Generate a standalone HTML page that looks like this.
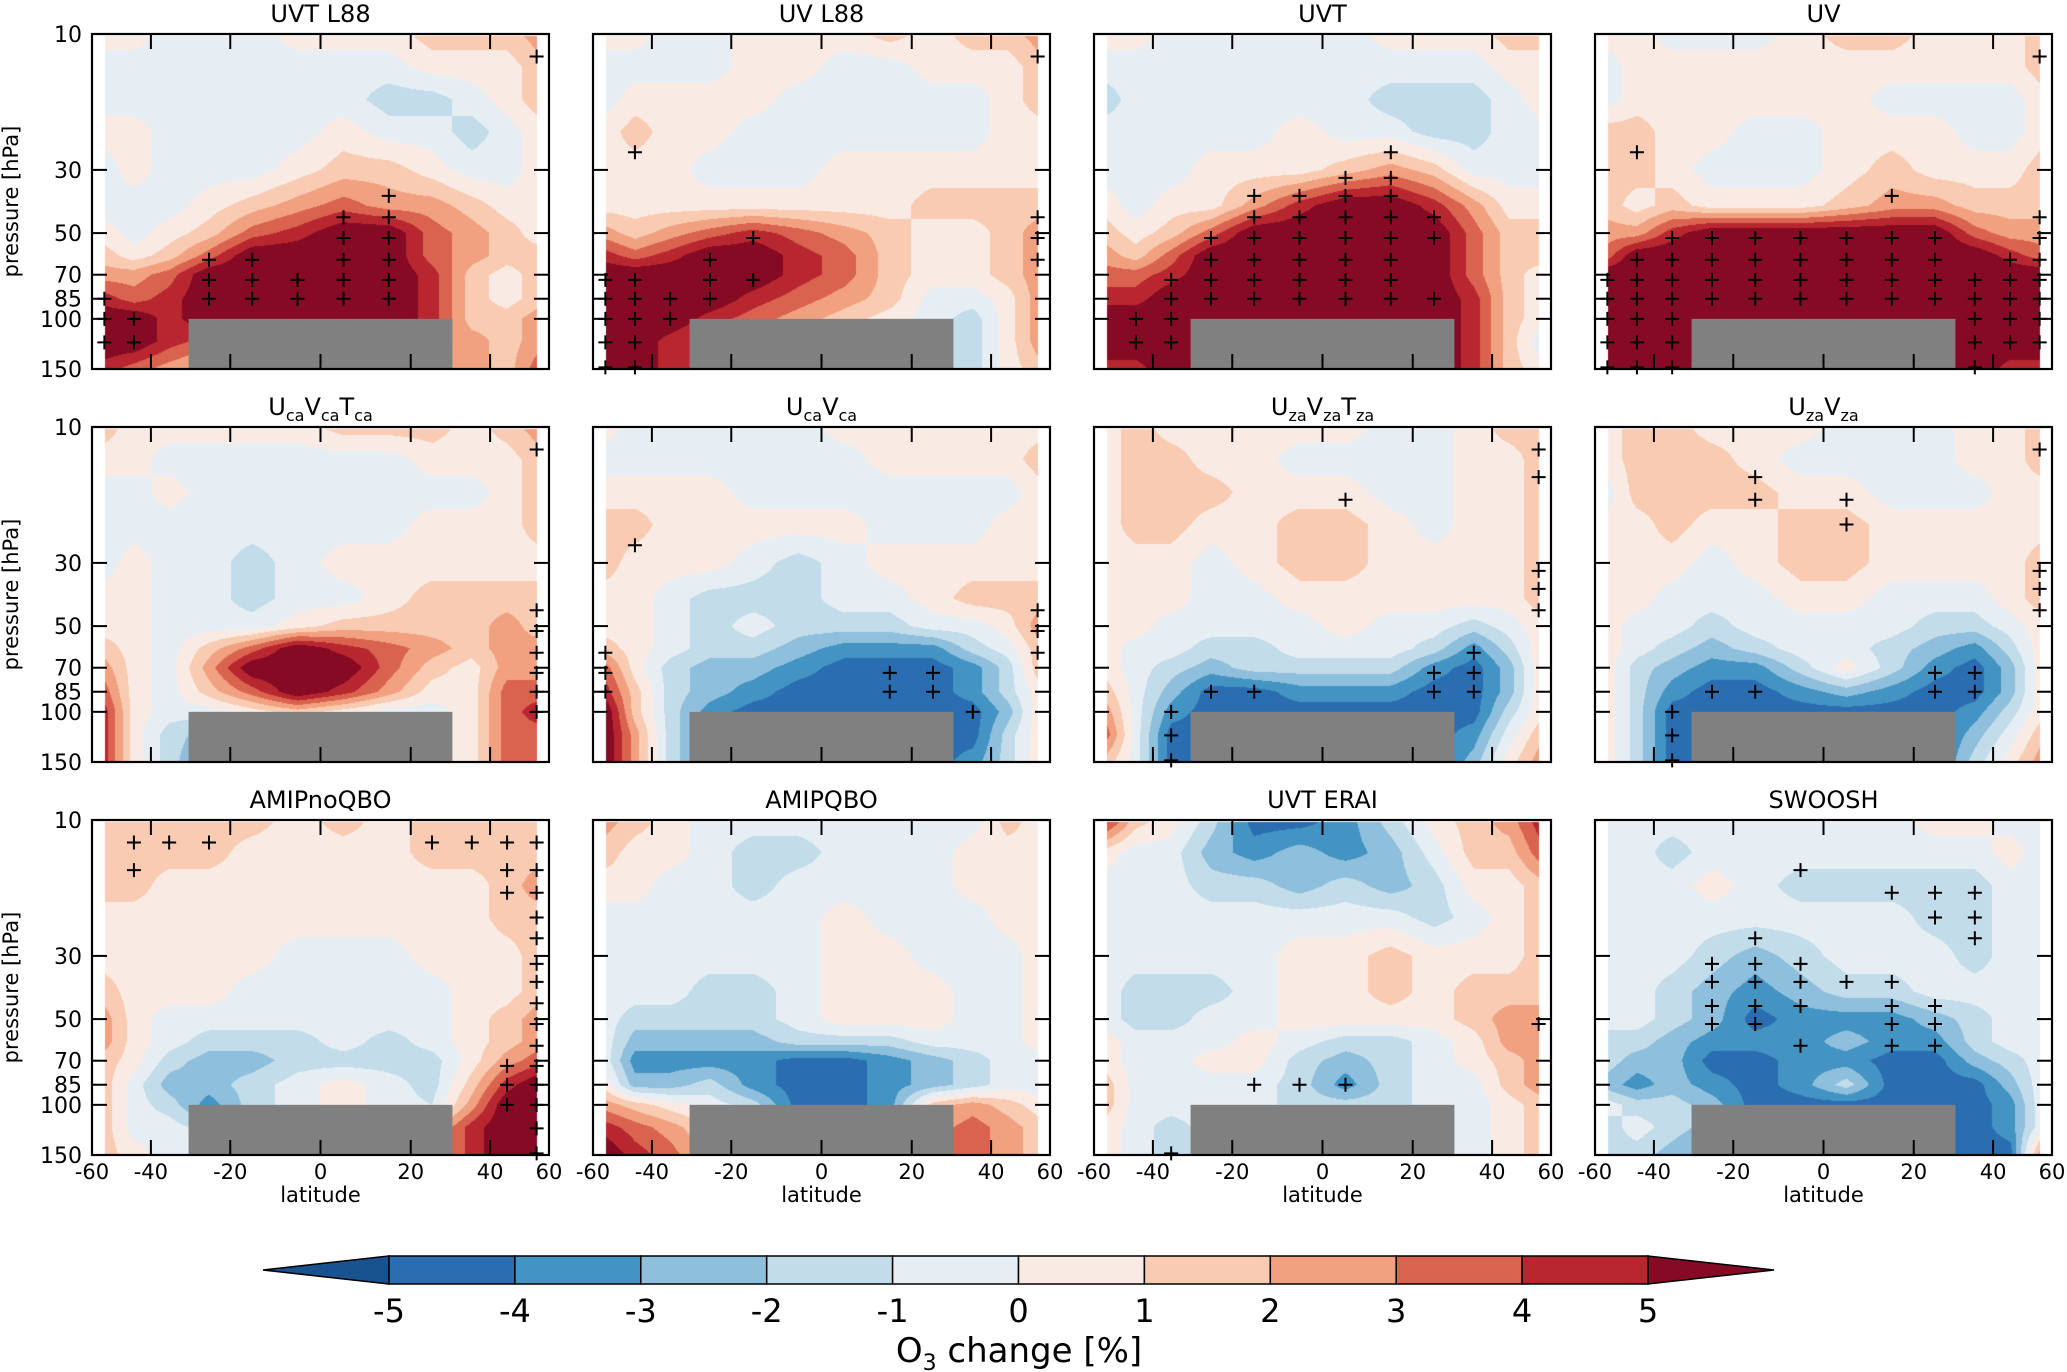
<!DOCTYPE html>
<html><head><meta charset="utf-8">
<style>
body{margin:0;background:#fff;}
#root{position:relative;width:2067px;height:1372px;overflow:hidden;font-family:"DejaVu Sans","Liberation Sans",sans-serif;}
canvas{position:absolute;}
svg{position:absolute;left:0;top:0;}
</style></head>
<body>
<div id="root">
<svg id="svg" width="2067" height="1372"></svg>
</div>
<script>
// ---- data ----
const lats = [-55,-45,-35,-25,-15,-5,5,15,25,35,45,55];
const levels = [10,13,17,22,30,40,50,60,70,85,100,120,150];
const titles = ["UVT L88","UV L88","UVT","UV","U_caV_caT_ca","U_caV_ca","U_zaV_zaT_za","U_zaV_za","AMIPnoQBO","AMIPQBO","UVT ERAI","SWOOSH"];
const yTicks = [10,30,50,70,85,100,150];
const xTicks = [-60,-40,-20,0,20,40,60];
const cbarLevels = [-5,-4,-3,-2,-1,0,1,2,3,4,5];
const colors = ["#18528f","#2a6db1","#4393c3","#8ebfdc","#c2dcea","#e6eef4","#f9ebe3","#f9cbb3","#f1a17f","#d9634f","#b8272f","#860a23"];

const p1 = [
[0.5,0.5,-0.5,-0.5,-0.5,0.5,0.5,0.5,1.5,1.5,1.5,2.5],
[-0.5,-0.5,-0.5,-0.5,-0.5,-0.5,-0.5,-0.5,0.5,0.5,0.5,1.5],
[-0.5,-0.5,-0.5,-0.5,-0.5,-0.5,-0.5,-1.5,-1.5,-0.5,0.5,1.5],
[0.5,0.5,-0.5,-0.5,-0.5,-0.5,0.5,-0.5,-0.5,-1.5,-0.5,0.5],
[-0.5,0.5,-0.5,-0.5,-0.5,0.5,1.5,1.5,0.5,-0.5,-0.5,0.5],
[-0.5,-0.5,-0.5,0.5,1.5,2.5,3.5,2.5,2.5,1.5,0.5,0.5],
[0.5,-0.5,0.5,1.5,3.5,4.5,6,6,3.5,2.5,1.5,0.5],
[1.5,0.5,1.5,3.5,6,6,6,6,3.5,2.5,1.5,1.5],
[2.5,2.5,3.5,6,6,6,6,6,4.5,1.5,0.5,1.5],
[4.5,3.5,4.5,6,6,6,6,6,4.5,1.5,0.5,1.5],
[6,6,4.5,6,6,6,6,6,4.5,1.5,1.5,2.5],
[6,6,4.5,3.5,3.5,4,4,4,3.5,2.5,1.5,2.5],
[4.5,3.5,2.5,1.5,2,2,2,2,2.5,2.5,1.5,3.5]];
const p2 = [
[0.5,0.5,-0.5,-0.5,0.5,0.5,0.5,1.5,0.5,1.5,1.5,2.5],
[-0.5,-0.5,-0.5,-0.5,0.5,0.5,-0.5,-0.5,0.5,0.5,0.5,1.5],
[-0.5,0.5,0.5,0.5,0.5,-0.5,-0.5,-0.5,-0.5,-0.5,0.5,1.5],
[0.5,1.5,0.5,0.5,-0.5,-0.5,-0.5,-0.5,-0.5,-0.5,0.5,0.5],
[0.5,0.5,0.5,-0.5,-0.5,-0.5,0.5,0.5,0.5,0.5,0.5,0.5],
[0.5,0.5,0.5,0.5,0.5,0.5,0.5,0.5,1.5,1.5,1.5,1.5],
[2.5,1.5,2.5,3.5,4.5,3.5,2.5,1.5,0.5,0.5,1.5,2.5],
[4.5,3.5,4.5,6,6,4.5,3.5,1.5,0.5,0.5,1.5,2.5],
[6,6,6,6,6,4.5,3.5,1.5,0.5,0.5,1.5,2.5],
[6,6,6,6,4.5,3.5,2.5,1.5,-0.5,-0.5,0.5,2.5],
[6,6,6,4.5,3.5,2.5,1.5,0.5,-0.5,-1.5,0.5,2.5],
[6,6,4.5,3.5,2.5,1.5,0.5,0.5,-0.5,-1.5,0.5,2.5],
[6,6,4.5,3.5,2,2,1,0.5,-0.5,-1.5,0.5,1.5]];
const p3 = [
[0.5,0.5,-0.5,-0.5,-0.5,-0.5,-0.5,0.5,0.5,0.5,1.5,1.5],
[-0.5,-0.5,-0.5,-0.5,-0.5,-0.5,-0.5,-0.5,-0.5,-0.5,0.5,0.5],
[-1.5,-0.5,-0.5,-0.5,-0.5,-0.5,-0.5,-1.5,-1.5,-1.5,-0.5,0.5],
[-0.5,-0.5,-0.5,-0.5,-0.5,0.5,-0.5,-0.5,-1.5,-1.5,-0.5,-0.5],
[-0.5,-0.5,-0.5,0.5,0.5,0.5,1.5,2.5,1.5,-0.5,-0.5,-0.5],
[0.5,-0.5,0.5,0.5,2.5,4.5,6,6,4.5,2.5,0.5,0.5],
[1.5,0.5,1.5,3.5,6,6,6,6,6,3.5,1.5,1.5],
[2.5,1.5,3.5,6,6,6,6,6,6,3.5,1.5,1.5],
[3.5,3.5,4.5,6,6,6,6,6,6,3.5,1.5,0.5],
[4.5,4.5,6,6,6,6,6,6,6,4.5,1.5,0.5],
[6,6,6,6,6,6,6,6,6,4.5,1.5,0.5],
[6,6,6,6,6,6,6,6,6,4.5,1.5,-0.5],
[4.5,4.5,6,6,6,6,6,6,6,4.5,1.5,0.5]];
const p4 = [
[0.5,0.5,-0.5,-0.5,-0.5,0.5,1.5,1.5,0.5,0.5,0.5,1.5],
[-0.5,0.5,0.5,0.5,0.5,0.5,0.5,0.5,0.5,0.5,0.5,1.5],
[-0.5,0.5,0.5,0.5,0.5,0.5,0.5,-0.5,-0.5,-0.5,-0.5,0.5],
[1.5,1.5,0.5,0.5,-0.5,-0.5,0.5,0.5,0.5,-0.5,-0.5,0.5],
[1.5,1.5,0.5,-0.5,-0.5,-0.5,0.5,1.5,0.5,0.5,0.5,1.5],
[1.5,0.5,1.5,0.5,0.5,0.5,1.5,2.5,2.5,1.5,1.5,1.5],
[2.5,2.5,4.5,6,6,6,6,6,6,3.5,2.5,2.5],
[3.5,6,6,6,6,6,6,6,6,6,4.5,3.5],
[6,6,6,6,6,6,6,6,6,6,6,6],
[6,6,6,6,6,6,6,6,6,6,6,6],
[6,6,6,6,6,6,6,6,6,6,6,6],
[6,6,6,6,6,6,6,6,6,6,6,6],
[6,6,6,6,6,6,6,6,6,6,4.5,4.5]];
const p5 = [
[1.5,0.5,0.5,0.5,0.5,0.5,1.5,1.5,1.5,0.5,1.5,2.5],
[0.5,0.5,-0.5,-0.5,-0.5,-0.5,-0.5,-0.5,0.5,0.5,0.5,1.5],
[-0.5,-0.5,0.5,-0.5,-0.5,-0.5,-0.5,-0.5,-0.5,-0.5,0.5,1.5],
[-0.5,-0.5,-0.5,-0.5,-0.5,-0.5,-0.5,-0.5,0.5,0.5,0.5,1.5],
[-0.5,0.5,-0.5,-0.5,-1.5,-0.5,0.5,0.5,0.5,0.5,0.5,0.5],
[0.5,0.5,-0.5,-0.5,-1.5,-0.5,-0.5,0.5,1.5,1.5,1.5,1.5],
[0.5,0.5,-0.5,-0.5,-0.5,0.5,1.5,1.5,1.5,1.5,2.5,1.5],
[1.5,0.5,-0.5,1.5,3.5,6,4.5,3.5,2.5,1.5,2.5,2.5],
[2.5,0.5,-0.5,2.5,6,6,6,3.5,1.5,0.5,2.5,2.5],
[3.5,0.5,-0.5,1.5,3.5,6,4.5,2.5,0.5,0.5,3.5,3.5],
[4.5,0.5,-0.5,-0.5,0.5,1.5,0.5,-0.5,-0.5,0.5,3.5,4.5],
[4.5,0.5,-1.5,-2.5,-1,-1,-1,-1,-0.5,0.5,3.5,3.5],
[4.5,0.5,-1.5,-3.5,-1,-1,-1,-1,-0.5,0.5,3.5,3.5]];
const p6 = [
[0.5,-0.5,-0.5,-0.5,-0.5,-0.5,0.5,0.5,0.5,0.5,0.5,0.5],
[-0.5,-0.5,-0.5,-0.5,-0.5,-0.5,-0.5,0.5,0.5,0.5,0.5,1.5],
[0.5,0.5,0.5,0.5,-0.5,-0.5,-0.5,-0.5,-0.5,-0.5,-0.5,0.5],
[1.5,1.5,0.5,0.5,0.5,0.5,0.5,-0.5,-0.5,-0.5,0.5,0.5],
[1.5,0.5,0.5,0.5,-0.5,-1.5,-0.5,0.5,0.5,0.5,0.5,0.5],
[0.5,0.5,-0.5,-1.5,-1.5,-1.5,-0.5,-0.5,0.5,1.5,1.5,1.5],
[0.5,0.5,-0.5,-1.5,-0.5,-1.5,-1.5,-1.5,-0.5,-0.5,0.5,2.5],
[1.5,0.5,-0.5,-1.5,-1.5,-2.5,-3.5,-3.5,-3.5,-1.5,-0.5,1.5],
[3.5,0.5,-1.5,-2.5,-2.5,-3.5,-4.5,-4.5,-4.5,-3.5,-1.5,1.5],
[4.5,1.5,-1.5,-2.5,-3.5,-4.5,-4.5,-4.5,-4.5,-3.5,-1.5,0.5],
[6,1.5,-1.5,-3.5,-4.5,-4.5,-4.5,-4.5,-4.5,-4.5,-2.5,0.5],
[6,2.5,-1.5,-3.5,-4,-4,-4,-4,-4.5,-4.5,-1.5,0.5],
[6,2.5,-1.5,-3.5,-4,-4,-4,-4,-4.5,-3.5,-1.5,0.5]];
const p7 = [
[0.5,1.5,0.5,0.5,0.5,0.5,0.5,-0.5,-0.5,0.5,1.5,1.5],
[0.5,1.5,1.5,0.5,0.5,-0.5,-0.5,-0.5,-0.5,0.5,0.5,1.5],
[0.5,1.5,1.5,1.5,0.5,0.5,0.5,-0.5,-0.5,0.5,0.5,1.5],
[0.5,1.5,1.5,0.5,0.5,1.5,1.5,0.5,-0.5,0.5,0.5,1.5],
[0.5,0.5,0.5,-0.5,0.5,1.5,1.5,0.5,0.5,0.5,0.5,1.5],
[0.5,0.5,0.5,-0.5,-0.5,0.5,0.5,0.5,0.5,0.5,0.5,1.5],
[0.5,0.5,-0.5,-0.5,-0.5,-0.5,0.5,-0.5,-0.5,-1.5,-0.5,0.5],
[0.5,-0.5,-0.5,-1.5,-1.5,-0.5,-0.5,-0.5,-1.5,-3.5,-1.5,0.5],
[0.5,-0.5,-1.5,-2.5,-1.5,-1.5,-1.5,-1.5,-3.5,-4.5,-2.5,0.5],
[1.5,-0.5,-2.5,-4.5,-4.5,-3.5,-3.5,-3.5,-4.5,-4.5,-2.5,0.5],
[2.5,-0.5,-3.5,-4.5,-4.5,-4.5,-4.5,-4.5,-4.5,-4.5,-1.5,0.5],
[3.5,-0.5,-4.5,-4.5,-4.5,-4.5,-4.5,-4.5,-4.5,-3.5,-0.5,1.5],
[1.5,-0.5,-4.5,-4.5,-4.5,-4.5,-4.5,-4.5,-4.5,-2.5,0.5,2.5]];
const p8 = [
[0.5,1.5,1.5,0.5,0.5,0.5,-0.5,-0.5,-0.5,0.5,0.5,1.5],
[0.5,1.5,1.5,1.5,0.5,-0.5,-0.5,-0.5,-0.5,0.5,0.5,1.5],
[-0.5,1.5,1.5,1.5,1.5,0.5,0.5,-0.5,-0.5,-0.5,0.5,0.5],
[0.5,0.5,1.5,0.5,0.5,1.5,1.5,0.5,0.5,0.5,0.5,0.5],
[0.5,0.5,0.5,-0.5,0.5,1.5,1.5,0.5,0.5,0.5,0.5,1.5],
[0.5,0.5,-0.5,-0.5,-0.5,0.5,0.5,-0.5,-0.5,-0.5,0.5,1.5],
[0.5,-0.5,-0.5,-1.5,-0.5,-0.5,-0.5,-0.5,-1.5,-1.5,-0.5,0.5],
[0.5,-0.5,-1.5,-2.5,-1.5,-0.5,-0.5,-1.5,-2.5,-3.5,-1.5,0.5],
[0.5,-1.5,-2.5,-3.5,-3.5,-1.5,0.5,-1.5,-3.5,-4.5,-2.5,0.5],
[0.5,-1.5,-3.5,-4.5,-4.5,-3.5,-2.5,-3.5,-4.5,-4.5,-2.5,0.5],
[0.5,-1.5,-4.5,-4.5,-4.5,-4.5,-4.5,-4.5,-4.5,-3.5,-1.5,0.5],
[0.5,-1.5,-4.5,-4.5,-4.5,-4.5,-4.5,-4.5,-4.5,-2.5,-0.5,1.5],
[0.5,-1.5,-4.5,-4.5,-4.5,-4.5,-4.5,-4.5,-4.5,-1.5,0.5,2.5]];
const p9 = [
[1.5,1.5,1.5,1.5,1.5,0.5,1.5,0.5,1.5,1.5,1.5,1.5],
[1.5,1.5,1.5,1.5,0.5,0.5,0.5,0.5,1.5,1.5,1.5,1.5],
[1.5,1.5,0.5,0.5,0.5,0.5,0.5,0.5,0.5,0.5,1.5,2.5],
[0.5,0.5,0.5,0.5,0.5,0.5,0.5,0.5,0.5,0.5,1.5,1.5],
[0.5,0.5,0.5,0.5,0.5,-0.5,-0.5,-0.5,0.5,0.5,0.5,1.5],
[1.5,0.5,0.5,0.5,-0.5,-0.5,-0.5,-0.5,-0.5,0.5,0.5,1.5],
[2.5,0.5,-0.5,-0.5,-0.5,-0.5,-0.5,-0.5,-0.5,0.5,1.5,2.5],
[2.5,0.5,-0.5,-1.5,-1.5,-1.5,-0.5,-1.5,-0.5,0.5,1.5,2.5],
[1.5,0.5,-1.5,-2.5,-2.5,-1.5,-1.5,-1.5,-1.5,0.5,2.5,3.5],
[1.5,-0.5,-2.5,-2.5,-1.5,-0.5,0.5,-0.5,-1.5,1.5,4.5,6],
[1.5,-0.5,-1.5,-3.5,-1.5,-0.5,0.5,-0.5,-1,2.5,6,6],
[1.5,-0.5,-0.5,-1.5,-1,-1,-1,-1,1.5,4.5,6,6],
[1.5,0.5,-0.5,-0.5,-1,-1,-1,-1,1.5,4.5,6,6]];
const p10 = [
[2.5,1.5,0.5,-0.5,-0.5,-0.5,-0.5,-0.5,-0.5,-0.5,1.5,0.5],
[1.5,0.5,0.5,-0.5,-1.5,-1.5,-0.5,-0.5,-0.5,0.5,0.5,0.5],
[0.5,0.5,-0.5,-0.5,-1.5,-0.5,-0.5,-0.5,-0.5,0.5,0.5,0.5],
[-0.5,-0.5,-0.5,-0.5,-0.5,-0.5,0.5,-0.5,-0.5,-0.5,0.5,0.5],
[-0.5,-0.5,-0.5,-0.5,-0.5,-0.5,0.5,0.5,-0.5,-0.5,-0.5,0.5],
[-0.5,-0.5,-0.5,-1.5,-1.5,-0.5,0.5,0.5,0.5,-0.5,-0.5,0.5],
[-0.5,-1.5,-1.5,-1.5,-1.5,-0.5,0.5,0.5,0.5,-0.5,-0.5,0.5],
[-0.5,-2.5,-2.5,-2.5,-2.5,-1.5,-1.5,-1.5,-0.5,-0.5,-0.5,0.5],
[-0.5,-3.5,-3.5,-3.5,-3.5,-4.5,-4.5,-3.5,-2.5,-1.5,-0.5,-0.5],
[0.5,-2.5,-2.5,-1.5,-3.5,-4.5,-4.5,-3.5,-2.5,-1.5,-0.5,-0.5],
[2.5,1.5,0.5,-0.5,-1.5,-4.5,-4.5,-3.5,1.5,2.5,1.5,0.5],
[4.5,3.5,2.5,1,-2,-3,-3,-2,2.5,3.5,2.5,1.5],
[6,4.5,3.5,1.5,-1,-2,-2,-1,3.5,3.5,2.5,1.5]];
const p11 = [
[4.5,1.5,0.5,-1.5,-4.5,-4.5,-3.5,-1.5,0.5,1.5,2.5,4.5],
[0.5,-0.5,-0.5,-2.5,-3.5,-2.5,-3.5,-2.5,-0.5,1.5,1.5,3.5],
[-0.5,-0.5,-0.5,-1.5,-1.5,-2.5,-1.5,-2.5,-1.5,0.5,0.5,1.5],
[-0.5,-0.5,-0.5,-0.5,-0.5,-0.5,-0.5,-0.5,-1.5,-0.5,0.5,1.5],
[-0.5,-0.5,-0.5,-0.5,-0.5,0.5,0.5,1.5,0.5,0.5,0.5,1.5],
[-0.5,-1.5,-1.5,-1.5,-0.5,0.5,0.5,1.5,0.5,1.5,1.5,1.5],
[-0.5,-1.5,-1.5,-0.5,-0.5,0.5,0.5,0.5,0.5,1.5,2.5,2.5],
[0.5,-0.5,-0.5,-0.5,0.5,-0.5,-1.5,-1.5,-0.5,0.5,2.5,2.5],
[0.5,-0.5,-0.5,0.5,0.5,-1.5,-2.5,-1.5,-0.5,0.5,1.5,2.5],
[1.5,-0.5,-0.5,-0.5,-0.5,-1.5,-3.5,-1.5,-0.5,-0.5,1.5,2.5],
[1.5,-0.5,-0.5,-0.5,-0.5,-1.5,-1.5,-1.5,-0.5,-0.5,0.5,1.5],
[0.5,-0.5,-1.5,-0.5,-0.5,-0.5,-0.5,-0.5,-0.5,-0.5,0.5,1.5],
[0.5,-0.5,-1.5,-0.5,-0.5,-0.5,-0.5,-0.5,-0.5,-0.5,0.5,1.5]];
const p12 = [
[-0.5,-0.5,-0.5,-0.5,-0.5,-0.5,-0.5,-0.5,0.5,0.5,-0.5,-0.5],
[-0.5,-0.5,-1.5,-0.5,-0.5,-0.5,-0.5,-0.5,-0.5,-0.5,0.5,-0.5],
[-0.5,-0.5,-0.5,0.5,-0.5,-1.5,-1.5,-1.5,-1.5,-1.5,-0.5,-0.5],
[-0.5,-0.5,-0.5,-0.5,-0.5,-0.5,-0.5,-0.5,-1.5,-1.5,-0.5,-0.5],
[-0.5,-0.5,-0.5,-1.5,-2.5,-1.5,-0.5,-0.5,-0.5,-1.5,-0.5,-0.5],
[-0.5,-0.5,-1.5,-2.5,-3.5,-2.5,-1.5,-1.5,-0.5,-0.5,-0.5,-0.5],
[-0.5,-0.5,-1.5,-2.5,-4.5,-3.5,-3.5,-3.5,-2.5,-1.5,-0.5,-0.5],
[-1.5,-1.5,-2.5,-3.5,-3.5,-3.5,-2.5,-3.5,-3.5,-1.5,-0.5,-0.5],
[-1.5,-2.5,-2.5,-4.5,-4.5,-3.5,-3.5,-4.5,-4.5,-2.5,-1.5,-0.5],
[-2.5,-3.5,-2.5,-3.5,-4.5,-3.5,-1.5,-4.5,-4.5,-4.5,-2.5,-0.5],
[-0.5,-1.5,-1.5,-2.5,-4.5,-4.5,-4.5,-4.5,-4.5,-4.5,-3.5,-0.5],
[-1.5,-0.5,-1.5,-2.5,-4.5,-4.5,-4.5,-4.5,-4.5,-4.5,-3.5,-0.5],
[-1.5,-1.5,-2.5,-3.5,-4.5,-4.5,-4.5,-4.5,-4.5,-4.5,-4.5,2.5]];
const fields = [p1,p2,p3,p4,p5,p6,p7,p8,p9,p10,p11,p12];

// significance markers [lat, pressure]
const sig1 = [[55,12],[15,37],[5,44],[15,44],[5,52],[15,52],[-25,62],[-15,62],[5,62],[15,62],[-25,73],[-15,73],[-5,73],[5,73],[15,73],[-25,85],[-15,85],[-5,85],[5,85],[15,85],[-55,85],[-55,100],[-45,100],[-55,121],[-45,121]];
const sig2 = [[-45,26],[55,12],[55,44],[55,52],[55,62],[-15,52],[-25,62],[-25,73],[-15,73],[-55,73],[-45,73],[-55,85],[-45,85],[-35,85],[-25,85],[-55,100],[-45,100],[-35,100],[-55,121],[-45,121],[-55,148],[-45,148]];
const sig3 = [[15,26],[5,32],[15,32],[-15,37],[-5,37],[5,37],[15,37],[-15,44],[-5,44],[5,44],[15,44],[25,44],[-25,52],[-15,52],[-5,52],[5,52],[15,52],[25,52],[-25,62],[-15,62],[-5,62],[5,62],[15,62],[-35,73],[-25,73],[-15,73],[-5,73],[5,73],[15,73],[-35,85],[-25,85],[-15,85],[-5,85],[5,85],[15,85],[25,85],[-45,100],[-35,100],[-45,121],[-35,121]];
const sig4 = [[-45,26],[15,37],[55,12],[55,44],[-35,52],[-25,52],[-15,52],[-5,52],[5,52],[15,52],[25,52],[55,52],[-45,62],[-35,62],[-25,62],[-15,62],[-5,62],[5,62],[15,62],[25,62],[45,62],[55,62],[-55,73],[-45,73],[-35,73],[-25,73],[-15,73],[-5,73],[5,73],[15,73],[25,73],[35,73],[45,73],[55,73],[-55,85],[-45,85],[-35,85],[-25,85],[-15,85],[-5,85],[5,85],[15,85],[25,85],[35,85],[45,85],[55,85],[-55,100],[-45,100],[-35,100],[35,100],[45,100],[55,100],[-55,121],[-45,121],[-35,121],[35,121],[45,121],[55,121],[-55,148],[-45,148],[-35,148],[35,148]];
const sig5 = [[55,12],[55,44],[55,52],[55,62],[55,73],[55,85],[55,100]];
const sig6 = [[-45,26],[55,44],[55,52],[55,62],[-55,62],[-55,73],[-55,85],[15,73],[25,73],[15,85],[25,85],[35,100]];
const sig7 = [[55,12],[55,15],[5,18],[55,32],[55,37],[55,44],[35,62],[25,73],[35,73],[-25,85],[-15,85],[25,85],[35,85],[-35,100],[-35,121],[-35,148]];
const sig8 = [[55,12],[-15,15],[-15,18],[5,18],[5,22],[55,32],[55,37],[55,44],[25,73],[35,73],[-25,85],[-15,85],[25,85],[35,85],[-35,100],[-35,121],[-35,148]];
const sig9 = [[-45,12],[-35,12],[-25,12],[25,12],[35,12],[45,12],[55,12],[-45,15],[45,15],[55,15],[45,18],[55,18],[55,22],[55,26],[55,32],[55,37],[55,44],[55,52],[55,62],[55,73],[55,85],[55,100],[55,121],[55,148],[45,73],[45,85],[45,100]];
const sig10 = [];
const sig11 = [[-15,85],[-5,85],[5,85],[55,52],[-35,148]];
const sig12 = [[-5,15],[15,18],[25,18],[35,18],[25,22],[35,22],[-15,26],[35,26],[-25,32],[-15,32],[-5,32],[-25,37],[-15,37],[-5,37],[5,37],[15,37],[-25,45],[-15,45],[-5,45],[15,45],[25,45],[-25,52],[-15,52],[15,52],[25,52],[-5,62],[15,62],[25,62]];
const sigs = [sig1,sig2,sig3,sig4,sig5,sig6,sig7,sig8,sig9,sig10,sig11,sig12];

// ---- layout ----
const PX0 = [92,593,1094,1595], PY0 = [34,427,820], PW = 457, PH = 335;
const S60 = Math.sin(Math.PI/3);
function xS(lat, x0){ return x0 + PW*(0.5 + 0.5*Math.sin(lat*Math.PI/180)/S60); }
function yS(p, y0){ return y0 + PH*(Math.log10(p)-1)/Math.log10(15); }
function colorFor(v){
  let i=0; while(i<cbarLevels.length && v>=cbarLevels[i]) i++;
  return colors[i];
}
const NS='http://www.w3.org/2000/svg';
const svg=document.getElementById('svg');
function mk(tag, attrs, parent){ const e=document.createElementNS(NS,tag); for(const k in attrs) e.setAttribute(k,attrs[k]); (parent||svg).appendChild(e); return e; }

// interpolation in (sin lat, log p)
const sLat = lats.map(l=>Math.sin(l*Math.PI/180));
const lLev = levels.map(p=>Math.log10(p));
function interp(field, s, lp){
  let i=0; while(i<sLat.length-2 && s>sLat[i+1]) i++;
  let j=0; while(j<lLev.length-2 && lp>lLev[j+1]) j++;
  let tx=(s-sLat[i])/(sLat[i+1]-sLat[i]); tx=Math.max(0,Math.min(1,tx));
  let ty=(lp-lLev[j])/(lLev[j+1]-lLev[j]); ty=Math.max(0,Math.min(1,ty));
  const a=field[j][i],b=field[j][i+1],c=field[j+1][i],d=field[j+1][i+1];
  return (a*(1-tx)+b*tx)*(1-ty)+(c*(1-tx)+d*tx)*ty;
}
function hexToRgb(h){ return [parseInt(h.substr(1,2),16),parseInt(h.substr(3,2),16),parseInt(h.substr(5,2),16)]; }
const rgbCols = colors.map(hexToRgb);

const root=document.getElementById('root');
fields.forEach((field, k)=>{
  const col=k%4, row=Math.floor(k/4);
  const x0=PX0[col], y0=PY0[row];
  // canvas fill
  const cv=document.createElement('canvas');
  cv.width=PW; cv.height=PH;
  cv.style.left=x0+'px'; cv.style.top=y0+'px';
  
  
  root.insertBefore(cv, svg);
  const ctx=cv.getContext('2d');
  const img=ctx.createImageData(PW,PH);
  const xL=xS(lats[0],0), xR=xS(lats[lats.length-1],0);
  const yT=yS(levels[0],0)+2, yB=yS(levels[levels.length-1],0);
  for(let py=0; py<PH; py++){
    const lp = 1 + (py+0.5)/PH*Math.log10(15);
    for(let px=0; px<PW; px++){
      const idx=(py*PW+px)*4;
      if(px<xL||px>xR||py<yT||py>yB){ img.data[idx]=255;img.data[idx+1]=255;img.data[idx+2]=255;img.data[idx+3]=255; continue; }
      const s = ((px+0.5)/PW-0.5)*2*S60;
      const v = interp(field, s, lp);
      let ci=0; while(ci<cbarLevels.length && v>=cbarLevels[ci]) ci++;
      const c=rgbCols[ci];
      img.data[idx]=c[0];img.data[idx+1]=c[1];img.data[idx+2]=c[2];img.data[idx+3]=255;
    }
  }
  ctx.putImageData(img,0,0);

  const g=mk('g',{});
  
  
  // gray masked region
  const gr=mk('rect',{x:xS(-30,x0),y:yS(100,y0),width:xS(30,x0)-xS(-30,x0),height:yS(150,y0)-yS(100,y0),fill:'#808080'},g);
  
  
  // significance markers
  sigs[k].forEach(([la,p])=>{
    const cx=xS(la,x0), cy=yS(p,y0);
    const m=mk('path',{d:`M${cx-7} ${cy}H${cx+7}M${cx} ${cy-7}V${cy+7}`,stroke:'#000','stroke-width':2},g);
    
    
  });
  // ticks
  xTicks.slice(1,-1).forEach(t=>{
    const x=xS(t,x0);
    mk('line',{x1:x,x2:x,y1:y0,y2:y0+15,stroke:'#000','stroke-width':2},g);
    mk('line',{x1:x,x2:x,y1:y0+PH,y2:y0+PH-15,stroke:'#000','stroke-width':2},g);
  });
  yTicks.slice(1,-1).forEach(t=>{
    const y=yS(t,y0);
    mk('line',{x1:x0,x2:x0+15,y1:y,y2:y,stroke:'#000','stroke-width':2},g);
    mk('line',{x1:x0+PW,x2:x0+PW-15,y1:y,y2:y,stroke:'#000','stroke-width':2},g);
  });
  const fr=mk('rect',{x:x0,y:y0,width:PW,height:PH,fill:'none',stroke:'#000','stroke-width':2.2},g);
  
  
  // title
  const tt=mk('text',{x:x0+PW/2,y:y0-12,'text-anchor':'middle','font-size':24},g);
  
  
  const parts=titles[k].split(/(_[a-z]+)/);
  parts.forEach(pt=>{
    if(!pt) return;
    const ts=document.createElementNS(NS,'tspan');
    if(pt[0]==='_'){ ts.textContent=pt.slice(1); ts.setAttribute('font-size','16'); ts.setAttribute('dy','6'); }
    else { ts.textContent=pt; if(tt.childNodes.length) ts.setAttribute('dy','-6'); }
    tt.appendChild(ts);
  });
  // y labels
  if(col===0){
    yTicks.forEach(t=>{
      const l=mk('text',{x:x0-10,y:yS(t,y0)+8,'text-anchor':'end','font-size':22},g);
      l.textContent=t;
      
      
    });
    const yt=mk('text',{x:0,y:0,'text-anchor':'middle','font-size':21,transform:`translate(18 ${y0+PH/2}) rotate(-90)`},g);
    yt.textContent='pressure [hPa]';
    
    
  }
  if(row===2){
    xTicks.forEach(t=>{
      const l=mk('text',{x:xS(t,x0),y:y0+PH+24,'text-anchor':'middle','font-size':21},g);
      l.textContent=t;
      
      
    });
    const xt=mk('text',{x:x0+PW/2,y:y0+PH+47,'text-anchor':'middle','font-size':21},g);
    xt.textContent='latitude';
    
    
  }
});

// colorbar
const CB0=389, CB1=1648, CBY=1256, CBH=28;
function cbX(v){ return CB0+(v-cbarLevels[0])/(cbarLevels[cbarLevels.length-1]-cbarLevels[0])*(CB1-CB0); }
const cb=mk('g',{});


const triW=126;
const tl=mk('polygon',{points:`${CB0},${CBY} ${CB0-triW},${CBY+CBH/2} ${CB0},${CBY+CBH}`,fill:colors[0],stroke:'#000','stroke-width':1.5},cb);


const th=mk('polygon',{points:`${CB1},${CBY} ${CB1+triW},${CBY+CBH/2} ${CB1},${CBY+CBH}`,fill:colors[colors.length-1],stroke:'#000','stroke-width':1.5},cb);


for(let i=0;i<cbarLevels.length-1;i++){
  const r=mk('rect',{x:cbX(cbarLevels[i]),y:CBY,width:cbX(cbarLevels[i+1])-cbX(cbarLevels[i]),height:CBH,fill:colors[i+1],stroke:'#000','stroke-width':1.5},cb);
  
  
}
cbarLevels.forEach(v=>{
  const l=mk('text',{x:cbX(v),y:1322,'text-anchor':'middle','font-size':32},cb);
  l.textContent=v;
  
  
});
const ct=mk('text',{x:1019,y:1362,'text-anchor':'middle','font-size':34},cb);


ct.innerHTML='O<tspan font-size="22" dy="8">3</tspan><tspan dy="-8"> change [%]</tspan>';
</script>
</body></html>
